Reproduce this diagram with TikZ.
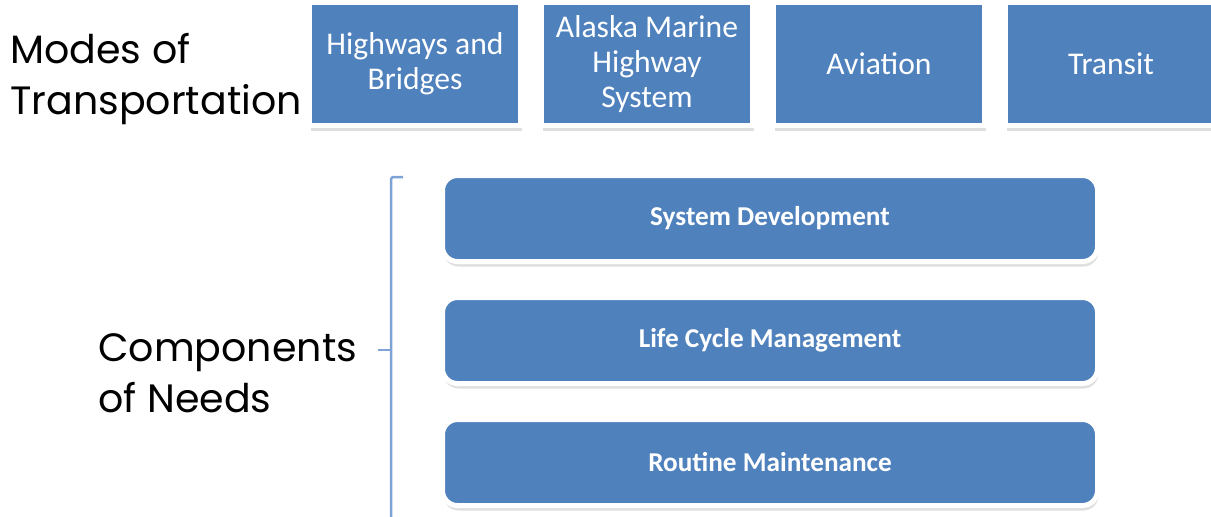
\documentclass[tikz,border=0pt]{standalone}
\usepackage{fontspec}
\setmainfont{Carlito}
\newfontfamily\headfont{Poppins}
\usepackage{xcolor}
\usepackage{tikz}
\usetikzlibrary{positioning,shadows}
\definecolor{modeblue}{HTML}{4F81BD}
\definecolor{bracketblue}{HTML}{7EA3D6}
\tikzstyle{mode} = [draw=white, fill=modeblue, rectangle, line width=0.1cm, minimum width=4.22cm, minimum height=2.46cm, text=white, align=center, font=\fontsize{18}{20}\selectfont, drop shadow={shadow xshift=0.02cm, shadow yshift=-0.1cm, opacity=0.25}]
\tikzstyle{need} = [draw=white, fill=modeblue, rectangle, rounded corners=0.3cm, line width=0.1cm, minimum width=13.1cm, minimum height=1.72cm, text=white, font=\bfseries\fontsize{15.5}{17}\selectfont, drop shadow={shadow xshift=0.02cm, shadow yshift=-0.1cm, opacity=0.25}]
\tikzstyle{heading} = [anchor=west, align=left, inner sep=0, font=\headfont\fontsize{22.5}{29}\selectfont]
\tikzstyle{bracket} = [draw=bracketblue, line width=0.05cm]

\begin{document}
\begin{tikzpicture}[node distance=4.64cm]
  \useasboundingbox (0,0) rectangle (24.22,-10.32);
  % modes of transportation
  \node [heading] (modes) at (0.2,-1.58) {Modes of\\Transportation};
  \node [mode] (highways) at (8.30,-1.28) {Highways and\\Bridges};
  \node [mode, right of=highways] (marine) {Alaska Marine\\Highway\\System};
  \node [mode, right of=marine] (aviation) {Aviation};
  \node [mode, right of=aviation] (transit) {Transit};

  % components of needs
  \node [heading] (needs) at (1.96,-7.46) {Components\\of Needs};
  \node [need] (sysdev) at (15.40,-4.37) {System Development};
  \node [need, below of=sysdev, node distance=2.44cm] (lifecycle) {Life Cycle Management};
  \node [need, below of=lifecycle, node distance=2.44cm] (routine) {Routine Maintenance};

  \coordinate (brtop) at (8.06,-3.54);
  \coordinate (brbot) at (7.82,-10.5);
  \coordinate (brmid) at (7.82,-7.0);
  \coordinate (brtip) at (7.56,-7.0);
  \draw [bracket, rounded corners=0.05cm] (brtop) -| (brbot);
  \draw [bracket] (brmid) -- (brtip);
\end{tikzpicture}
\end{document}
